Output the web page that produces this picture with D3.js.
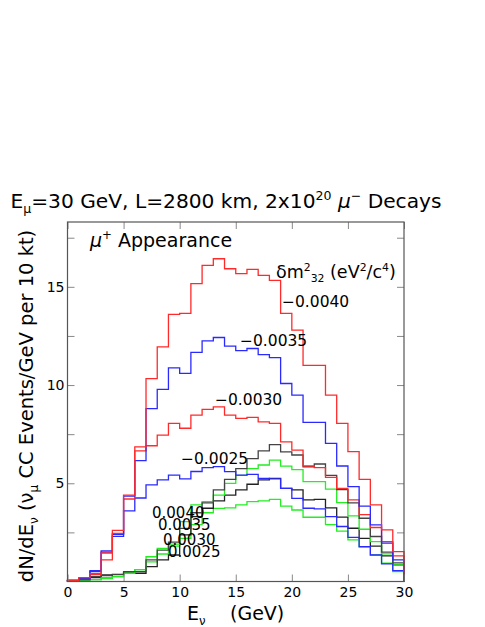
<!DOCTYPE html>
<html>
<head>
<meta charset="utf-8">
<script src="https://cdn.jsdelivr.net/npm/d3@7"></script>
<style>
  body { margin: 0; background: #fff; }
  text { font-family: "DejaVu Sans", sans-serif; fill: #000; }
</style>
</head>
<body>
<script>
// 1 GeV wide energy bins, 0..30 GeV
var binEdges = d3.range(0, 31);

// mu+ appearance spectra, negative dm^2_32 (eV^2/c^4)
var neg40 = [0.05, 0.2, 0.4, 1.45, 2.6, 4.4, 6.85, 10.33, 11.94, 13.6, 13.65, 15.16, 16.09, 16.43, 15.92,
             15.67, 15.89, 15.58, 15.33, 13.65, 12.8, 11.0, 11.0, 9.49, 8.05, 6.61, 5.2, 3.9, 2.63, 1.52];
var neg35 = [0.05, 0.15, 0.55, 1.56, 2.3, 4.35, 6.15, 8.8, 9.78, 10.87, 10.59, 11.66, 12.25, 12.42, 11.98,
             11.75, 11.86, 11.55, 11.4, 10.08, 9.49, 8.1, 8.1, 7.03, 5.88, 4.83, 3.84, 2.88, 1.95, 1.1];
var neg30 = [0.05, 0.15, 0.35, 1.1, 2.45, 4.2, 6.65, 6.91, 7.45, 8.05, 7.8, 8.47, 8.76, 8.89, 8.47,
             8.3, 8.35, 8.13, 8.05, 7.11, 6.69, 5.88, 5.8, 5.3, 4.74, 4.15, 3.4, 2.75, 2.03, 1.3];
var neg25 = [0.05, 0.12, 0.5, 1.5, 2.4, 3.6, 4.25, 4.92, 5.17, 5.42, 5.22, 5.6, 5.8, 5.85, 5.59,
             5.42, 5.45, 5.25, 5.22, 4.74, 4.23, 3.73, 3.7, 3.3, 2.8, 2.25, 1.78, 1.35, 0.9, 0.55];

// positive dm^2_32
var pos40 = [0.02, 0.1, 0.25, 0.3, 0.35, 0.5, 0.5, 1.1, 1.6, 2.0, 2.7, 3.5, 4.0, 4.66, 5.2,
             5.75, 6.25, 6.65, 6.97, 6.6, 6.44, 5.84, 5.98, 5.4, 4.68, 4.0, 3.22, 2.29, 1.5, 0.95];
var pos35 = [0.02, 0.08, 0.1, 0.2, 0.25, 0.42, 0.6, 1.26, 1.69, 1.9, 3.05, 3.9, 4.07, 4.4, 5.0,
             5.4, 5.75, 5.93, 6.18, 5.87, 5.7, 5.08, 5.08, 4.7, 4.01, 3.34, 2.66, 2.03, 1.41, 0.85];
var pos30 = [0.02, 0.1, 0.2, 0.33, 0.36, 0.42, 0.42, 0.76, 1.1, 1.35, 2.37, 3.3, 3.73, 4.1, 4.4,
             4.66, 4.95, 5.17, 5.25, 4.74, 4.66, 4.15, 4.18, 3.75, 3.28, 2.71, 2.2, 1.8, 1.3, 0.85];
var pos25 = [0.02, 0.05, 0.1, 0.15, 0.25, 0.45, 0.6, 1.0, 1.4, 1.8, 2.2, 2.9, 3.5, 3.72, 3.75,
             3.9, 4.07, 4.1, 4.18, 3.84, 3.64, 3.27, 3.27, 2.9, 2.56, 2.12, 1.75, 1.36, 0.93, 0.5];

var xTicks = [0, 5, 10, 15, 20, 25, 30];
var yTicks = [5, 10, 15];
var yMinor = [2.5, 5, 7.5, 10, 12.5, 15, 17.5];

var curves = [
  {vals: pos25, color: "#22ee22"},
  {vals: pos30, color: "#222222"},
  {vals: pos35, color: "#22ee22"},
  {vals: pos40, color: "#444444"},
  {vals: neg25, color: "#2a2aff"},
  {vals: neg30, color: "#ff2a2a"},
  {vals: neg35, color: "#2a2aff"},
  {vals: neg40, color: "#ff2a2a"}
];

var curveLabels = [
  {t: "\u22120.0040", x: 282, y: 307},
  {t: "\u22120.0035", x: 240, y: 346},
  {t: "\u22120.0030", x: 215, y: 405},
  {t: "\u22120.0025", x: 181, y: 464},
  {t: "0.0040", x: 152, y: 518},
  {t: "0.0035", x: 158, y: 530},
  {t: "0.0030", x: 163, y: 545},
  {t: "0.0025", x: 168, y: 557}
];

var margin = {top: 222, right: 81, bottom: 45.5, left: 67.5},
    width = 485 - margin.left - margin.right,
    height = 627 - margin.top - margin.bottom;

var x = d3.scaleLinear().domain([0, 30]).range([0, width]);
var y = d3.scaleLinear().domain([0, 18.3]).range([height, 0]);

var svgRoot = d3.select("body").append("svg")
    .attr("width", 485)
    .attr("height", 627);
var svg = svgRoot.append("g")
    .attr("transform", "translate(" + margin.left + "," + margin.top + ")");

// write text with super/subscripts; parts = [[text, "n"|"sup"|"sub", italic], ...]
function rich(sel, parts, size) {
  var shift = 0;
  parts.forEach(function(p) {
    var target = p[1] == "sup" ? -0.42 * size : p[1] == "sub" ? 0.25 * size : 0;
    sel.append("tspan")
      .attr("dy", target - shift)
      .attr("font-size", p[1] == "n" ? size : size * 0.62)
      .style("font-style", p[2] ? "italic" : null)
      .text(p[0]);
    shift = target;
  });
  return sel;
}

// histograms
var line = d3.line()
    .x(function(d) { return x(d[0]); })
    .y(function(d) { return y(d[1]); })
    .curve(d3.curveStepAfter);

curves.forEach(function(c) {
  var pts = [[0, 0]];
  c.vals.forEach(function(v, i) { pts.push([binEdges[i], v]); });
  pts.push([30, c.vals[c.vals.length - 1]]);
  pts.push([30, 0]);
  svg.append("path")
    .attr("d", line(pts))
    .attr("fill", "none")
    .attr("stroke", c.color)
    .attr("stroke-width", 1.3);
});

// axes with inward ticks
var axBottom = svg.append("g")
    .attr("transform", "translate(0," + height + ")")
    .call(d3.axisBottom(x).tickValues(xTicks).tickSize(-7).tickSizeOuter(0).tickPadding(6));
var axTop = svg.append("g")
    .call(d3.axisTop(x).tickValues(xTicks).tickSize(-7).tickSizeOuter(0).tickFormat(""));
var axLeft = svg.append("g")
    .call(d3.axisLeft(y).tickValues(yMinor).tickSize(-7).tickSizeOuter(0).tickPadding(3)
      .tickFormat(function(d) { return yTicks.indexOf(d) >= 0 ? d : ""; }));
var axRight = svg.append("g")
    .attr("transform", "translate(" + width + ",0)")
    .call(d3.axisRight(y).tickValues(yMinor).tickSize(-7).tickSizeOuter(0).tickFormat(""));

[axBottom, axTop, axLeft, axRight].forEach(function(a) {
  a.select(".domain").remove();
  a.selectAll(".tick line").attr("stroke", "#888");
  a.selectAll(".tick text").attr("font-size", 14).attr("font-family", "DejaVu Sans").attr("fill", "#000");
});

svg.append("rect")
    .attr("width", width)
    .attr("height", height)
    .attr("fill", "none")
    .attr("stroke", "#555")
    .attr("stroke-width", 1.2);

// curve labels
curveLabels.forEach(function(l) {
  svgRoot.append("text")
    .attr("x", l.x).attr("y", l.y)
    .attr("font-size", l.t.charAt(0) == "0" ? 15 : 15.5)
    .text(l.t);
});

// title
rich(svgRoot.append("text").attr("x", 226).attr("y", 208).attr("text-anchor", "middle"),
  [["E", "n"], ["\u03bc", "sub"], ["=30 GeV, L=2800 km, 2x10", "n"], ["20", "sup"],
   [" ", "n"], ["\u03bc", "n", true], ["\u2212", "sup"], [" Decays", "n"]], 20.2);

rich(svgRoot.append("text").attr("x", 90).attr("y", 247),
  [["\u03bc", "n", true], ["+", "sup"], [" Appearance", "n"]], 19);

rich(svgRoot.append("text").attr("x", 276).attr("y", 278),
  [["\u03b4m", "n"], ["2", "sup"], ["32", "sub"], [" (eV", "n"], ["2", "sup"], ["/c", "n"], ["4", "sup"], [")", "n"]], 17.5);

// axis titles
rich(svgRoot.append("text").attr("x", 187).attr("y", 620),
  [["E", "n"], ["\u03bd", "sub"]], 19);
svgRoot.append("text").attr("x", 230).attr("y", 620).attr("font-size", 19).text("(GeV)");

rich(svgRoot.append("text")
    .attr("transform", "translate(33,406) rotate(-90)")
    .attr("text-anchor", "middle"),
  [["dN/dE", "n"], ["\u03bd", "sub"], ["  (\u03bd", "n"], ["\u03bc", "sub"], [" CC Events/GeV per 10 kt)", "n"]], 19.5);
</script>
</body>
</html>
